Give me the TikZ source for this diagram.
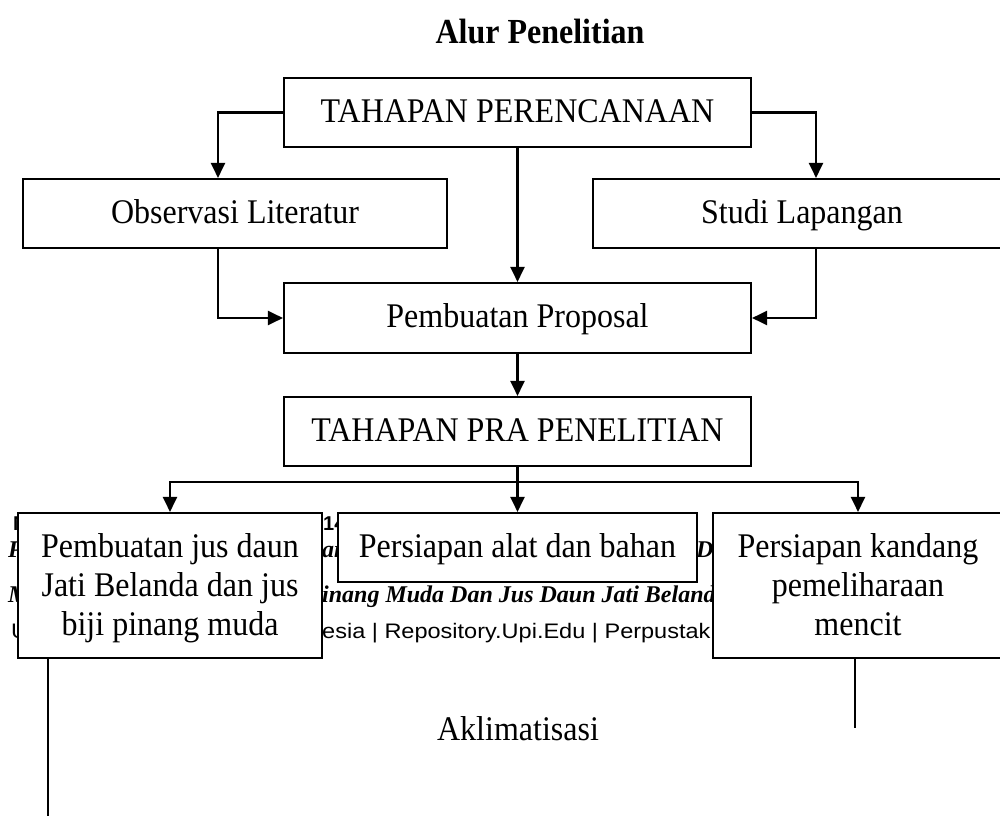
\documentclass[tikz,border=0pt]{standalone}
\usepackage{graphicx}
\usepackage{fontspec}
\setmainfont{Liberation Serif}
\newfontfamily\footsans{Liberation Sans}
\usetikzlibrary{arrows.meta}
\newcommand\vtx[1]{\scalebox{1}[1.08]{#1}}
\newcommand\mtx[1]{\raisebox{-3pt}[\height][\depth]{\scalebox{1}[1.08]{\begin{tabular}{@{}c@{}}#1\end{tabular}}}}
\begin{document}
\begin{tikzpicture}[x=1pt,y=-1pt,
  box/.style={draw,line width=2.1pt,fill=white,inner sep=0pt,align=center,
    font=\fontsize{32}{36}\selectfont},
  one/.style={text height=26pt,text depth=7pt},
  arr/.style={line width=2.1pt,-{Triangle[length=15pt,width=14pt]}},
  ln/.style={line width=2pt},
  foot/.style={anchor=base west,inner sep=0pt},
  fsb/.style={font=\footsans\bfseries\fontsize{20}{24}\selectfont},
  fit/.style={font=\bfseries\itshape\fontsize{24}{28}\selectfont},
  fsr/.style={font=\footsans\fontsize{21}{25}\selectfont}]
\useasboundingbox[fill=white] (0,0) rectangle (1000,816);

% title
\node[anchor=base,inner sep=0pt,font=\bfseries\fontsize{32}{38}\selectfont] (title) at (540,44) {\scalebox{1}[1.1]{Alur Penelitian}};

% background footer fragments (partly covered by boxes)
\node[foot,fsb] (f1a) at (13,530) {M};
\node[foot,fsb] (f1b) at (323,530) {14};
\node[foot,fit] (f2a) at (8,557) {P};
\node[foot,fit] (f2b) at (322,557) {ar};
\node[foot,fit] (f2c) at (696,557) {De};
\node[foot,fit] (f3a) at (8,602) {M};
\node[foot,fit] (f3b) at (322,602) {inang Muda Dan Jus Daun Jati Beland};
\node[foot,fsr] (f4a) at (11,638) {\scalebox{1.12}[1]{U}};
\node[foot,fsr] (f4b) at (322,638) {\scalebox{1.12}[1]{esia | Repository.Upi.Edu | Perpustak}};

% boxes
\node[box,one,minimum width=467pt,minimum height=69pt] (top) at (517.5,112.5) {\vtx{TAHAPAN PERENCANAAN}};
\node[box,one,minimum width=424pt,minimum height=69pt] (obs) at (235,213.5) {\vtx{Observasi Literatur}};
\node[box,one,minimum width=418pt,minimum height=69pt] (studi) at (802,213.5) {\vtx{Studi Lapangan}};
\node[box,one,minimum width=467pt,minimum height=70pt] (prop) at (517.5,318) {\vtx{Pembuatan Proposal}};
\node[box,one,minimum width=467pt,minimum height=69pt] (pra) at (517.5,431.5) {\vtx{TAHAPAN PRA PENELITIAN}};
\node[box,minimum width=304pt,minimum height=145pt] (b1) at (170,585.5) {\mtx{Pembuatan jus daun\\Jati Belanda dan jus\\biji pinang muda}};
\node[box,one,minimum width=359pt,minimum height=69pt] (b2) at (517.5,547.5) {\vtx{Persiapan alat dan bahan}};
\node[box,minimum width=290pt,minimum height=145pt] (b3) at (858,585.5) {\mtx{Persiapan kandang\\pemeliharaan\\mencit}};
\node[inner sep=0pt,anchor=base,font=\fontsize{32}{38}\selectfont] (akl) at (518,740) {\vtx{Aklimatisasi}};

% connectors
\draw[arr] (top.west) -| ([xshift=-17pt]obs.north);
\draw[arr] (top.east) -| ([xshift=14pt]studi.north);
\draw[arr] (top.south) -- (prop.north);
\draw[arr] ([xshift=-17pt]obs.south) |- (prop.west);
\draw[arr] ([xshift=14pt]studi.south) |- (prop.east);
\draw[arr] (prop.south) -- (pra.north);
\coordinate (bus) at (517.5,482);
\draw[arr] (pra.south) -- (b2.north);
\draw[ln] (b1.north |- bus) -- (b3.north |- bus);
\draw[arr] (bus) -| (b1.north);
\draw[arr] (bus) -| (b3.north);
\coordinate (e1) at (48,816);
\coordinate (e3) at (855,728);
\draw[ln] (b1.south -| e1) -- (e1);
\draw[ln] (b3.south -| e3) -- (e3);
\end{tikzpicture}
\end{document}
